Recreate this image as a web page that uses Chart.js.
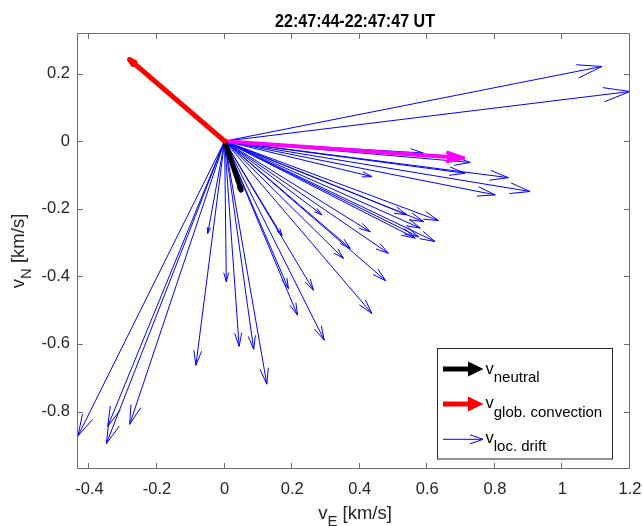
<!DOCTYPE html>
<html><head><meta charset="utf-8">
<script src="https://cdn.jsdelivr.net/npm/chart.js@4/dist/chart.umd.min.js"></script>
<style>html,body{margin:0;padding:0;background:#fff}#wrap{width:642px;height:526px}</style>
</head><body><div id="wrap"><canvas id="c" width="642" height="526"></canvas></div>
<script>
const titleText = '22:47:44-22:47:47 UT';
const xAxisMain = 'v', xAxisSub = 'E', xAxisUnit = ' [km/s]';
const yAxisMain = 'v', yAxisSub = 'N', yAxisUnit = ' [km/s]';
const xTicks = [-0.4, -0.2, 0, 0.2, 0.4, 0.6, 0.8, 1, 1.2];
const xTickLabels = ['-0.4', '-0.2', '0', '0.2', '0.4', '0.6', '0.8', '1', '1.2'];
const yTicks = [-0.8, -0.6, -0.4, -0.2, 0, 0.2];
const yTickLabels = ['-0.8', '-0.6', '-0.4', '-0.2', '0', '0.2'];
const xRange = [-0.434, 1.2];
const yRange = [-0.97, 0.32];

// local drift vectors (blue), east / north components
const driftU = [1.117, 1.20, 0.588, 0.727, 0.712, 0.840, 0.904, 0.801, 0.436, 0.633,
  0.623, 0.589, 0.579, 0.574, 0.564, 0.540, 0.431, 0.485, 0.477, 0.288,
  0.352, 0.372, 0.170, 0.189, 0.263, 0.216, 0.436, 0.295, -0.050, 0.005,
  0.043, 0.086, 0.125, -0.085, -0.434, -0.350, -0.346, -0.281];
const driftV = [0.221, 0.147, -0.035, -0.063, -0.095, -0.108, -0.149, -0.159, -0.105, -0.235,
  -0.297, -0.238, -0.257, -0.283, -0.287, -0.218, -0.268, -0.332, -0.413, -0.218,
  -0.347, -0.317, -0.280, -0.436, -0.441, -0.515, -0.510, -0.589, -0.273, -0.416,
  -0.607, -0.616, -0.719, -0.663, -0.872, -0.895, -0.844, -0.838];
// neutral wind (black)
const neutralU = [0.0485], neutralV = [-0.144];
// global convection (red)
const convU = [-0.281], convV = [0.241];
// mean drift (magenta)
const meanU = [0.706], meanV = [-0.050];

const legendLabels = ['neutral', 'glob. convection', 'loc. drift'];
const legendColors = ['#000000', '#ff0000', '#0000ff'];

const datasets = [];
function addArrow(u, v, color, width, kind, headScale) {
  datasets.push({
    data: [{x: 0, y: 0}, {x: u, y: v}],
    borderColor: color, backgroundColor: color, borderWidth: width,
    pointRadius: 0, pointHoverRadius: 0, showLine: true, fill: false, tension: 0,
    borderCapStyle: kind === 'thick' ? 'round' : 'butt', arrowKind: kind, headScale: headScale
  });
}
convU.forEach((u, i) => addArrow(u, convV[i], '#ff0000', 5, 'thick', 0.045));
neutralU.forEach((u, i) => addArrow(u, neutralV[i], '#000000', 5, 'thick', 0.045));
meanU.forEach((u, i) => addArrow(u, meanV[i], '#ff00ff', 4, 'thick', 0.067));
driftU.forEach((u, i) => addArrow(u, driftV[i], '#0000ff', 1, 'thin', 0.067));

const FONT = '"Liberation Sans", Arial, Helvetica, sans-serif';
const AXC = '#262626';

const arrowHeads = {
  id: 'arrowHeads',
  afterDatasetDraw(chart, args) {
    const meta = args.meta;
    const ds = chart.data.datasets[args.index];
    const p0 = meta.data[0], p1 = meta.data[1];
    if (!p0 || !p1) return;
    const a = chart.chartArea, ctx = chart.ctx;
    const dx = p1.x - p0.x, dy = p1.y - p0.y;
    const L = Math.hypot(dx, dy);
    const h = ds.headScale * L;
    const ang = Math.atan2(dy, dx);
    const sp = 15 * Math.PI / 180;
    ctx.save();
    ctx.beginPath();
    ctx.rect(a.left, a.top, a.right - a.left, a.bottom - a.top);
    ctx.clip();
    ctx.strokeStyle = ds.borderColor;
    ctx.lineWidth = ds.borderWidth;
    ctx.lineCap = ds.arrowKind === 'thick' ? 'round' : 'butt';
    ctx.lineJoin = ds.arrowKind === 'thick' ? 'round' : 'miter';
    ctx.beginPath();
    ctx.moveTo(p1.x - h * Math.cos(ang - sp), p1.y - h * Math.sin(ang - sp));
    ctx.lineTo(p1.x, p1.y);
    ctx.lineTo(p1.x - h * Math.cos(ang + sp), p1.y - h * Math.sin(ang + sp));
    ctx.stroke();
    ctx.restore();
  }
};

function subText(ctx, x, y, main, sub, rest, mainSize, subSize, drop) {
  ctx.font = mainSize + 'px ' + FONT;
  ctx.fillText(main, x, y);
  let w = ctx.measureText(main).width;
  ctx.font = subSize + 'px ' + FONT;
  ctx.fillText(sub, x + w, y + drop);
  w += ctx.measureText(sub).width;
  if (rest) {
    ctx.font = mainSize + 'px ' + FONT;
    ctx.fillText(rest, x + w, y);
  }
}
function subWidth(ctx, main, sub, rest, mainSize, subSize) {
  ctx.font = mainSize + 'px ' + FONT;
  let w = ctx.measureText(main).width + (rest ? ctx.measureText(rest).width : 0);
  ctx.font = subSize + 'px ' + FONT;
  return w + ctx.measureText(sub).width;
}

const decor = {
  id: 'decor',
  afterDraw(chart) {
    const ctx = chart.ctx, a = chart.chartArea;
    const xs = chart.scales.x, ys = chart.scales.y;
    ctx.save();
    // box
    ctx.strokeStyle = '#6f6f6f';
    ctx.lineWidth = 1;
    const L = Math.round(a.left) - 0.5, R = Math.round(a.right) - 0.5;
    const T = Math.round(a.top) + 0.5, B = Math.round(a.bottom) - 0.5;
    ctx.beginPath();
    ctx.rect(L, T, R - L, B - T);
    ctx.stroke();
    // inward ticks
    ctx.beginPath();
    xTicks.forEach(v => {
      const px = Math.round(xs.getPixelForValue(v)) - 0.5;
      ctx.moveTo(px, B); ctx.lineTo(px, B - 5.5);
      ctx.moveTo(px, T); ctx.lineTo(px, T + 5.5);
    });
    yTicks.forEach(v => {
      const py = Math.round(ys.getPixelForValue(v)) + 0.5;
      ctx.moveTo(L, py); ctx.lineTo(L + 5.5, py);
      ctx.moveTo(R, py); ctx.lineTo(R - 5.5, py);
    });
    ctx.stroke();

    // title (slightly condensed bold, as in the reference)
    ctx.fillStyle = '#000';
    ctx.textAlign = 'center';
    ctx.textBaseline = 'alphabetic';
    ctx.font = 'bold 18px ' + FONT;
    const tw = ctx.measureText(titleText).width;
    const sx = Math.min(1, 160 / tw);
    ctx.save();
    ctx.translate((a.left + a.right) / 2 + 1, 26.5);
    ctx.scale(sx, 1);
    ctx.fillText(titleText, 0, 0);
    ctx.restore();

    // x axis label
    ctx.fillStyle = AXC;
    ctx.textAlign = 'left';
    const cx = (a.left + a.right) / 2 + 1;
    let w = subWidth(ctx, xAxisMain, xAxisSub, xAxisUnit, 18.5, 15);
    subText(ctx, cx - w / 2, 518.5, xAxisMain, xAxisSub, xAxisUnit, 18.5, 15, 7);

    // y axis label
    ctx.save();
    ctx.translate(23.5, (a.top + a.bottom) / 2);
    ctx.rotate(-Math.PI / 2);
    w = subWidth(ctx, yAxisMain, yAxisSub, yAxisUnit, 18.5, 15);
    subText(ctx, -w / 2, 0, yAxisMain, yAxisSub, yAxisUnit, 18.5, 15, 7.5);
    ctx.restore();

    // legend
    const bx = 437.5, by = 348.5, bw = 175, bh = 110.5;
    ctx.fillStyle = '#fff';
    ctx.fillRect(bx, by, bw, bh);
    ctx.strokeStyle = '#262626';
    ctx.lineWidth = 1;
    ctx.strokeRect(bx, by, bw, bh);
    const cy = [369, 404, 439.3];
    const base = [373.5, 408.3, 442.5];
    legendLabels.forEach((lab, i) => {
      const col = legendColors[i];
      const y = cy[i];
      ctx.strokeStyle = col; ctx.fillStyle = col;
      if (i < 2) {
        ctx.lineWidth = 5; ctx.lineCap = 'butt';
        ctx.beginPath(); ctx.moveTo(443, y); ctx.lineTo(470, y); ctx.stroke();
        ctx.beginPath();
        ctx.moveTo(468, y - 7.5); ctx.lineTo(483.5, y); ctx.lineTo(468, y + 7.5);
        ctx.closePath(); ctx.fill();
      } else {
        ctx.lineWidth = 1;
        ctx.beginPath(); ctx.moveTo(443, y); ctx.lineTo(483, y);
        ctx.moveTo(470, y - 4.5); ctx.lineTo(483, y); ctx.lineTo(470, y + 4.5);
        ctx.stroke();
      }
      ctx.fillStyle = '#000';
      ctx.textAlign = 'left';
      subText(ctx, 485.5, base[i], 'v', lab, '', 16.5, 15, 8.5);
    });
    ctx.restore();
  }
};

new Chart(document.getElementById('c'), {
  type: 'scatter',
  data: { datasets },
  options: {
    responsive: false,
    animation: false,
    devicePixelRatio: 1,
    events: [],
    layout: { padding: { left: 0, right: 12, top: 33, bottom: 0 } },
    plugins: { legend: { display: false }, tooltip: { enabled: false }, title: { display: false } },
    scales: {
      x: {
        type: 'linear', min: xRange[0], max: xRange[1],
        grid: { display: false, drawTicks: false },
        border: { display: false },
        afterBuildTicks: s => { s.ticks = xTicks.map(v => ({ value: v })); },
        afterFit: s => { s.height = 57; s.paddingLeft = 0; s.paddingRight = 0; },
        ticks: {
          autoSkip: false, maxRotation: 0, padding: 11, color: AXC,
          font: { family: FONT, size: 16.5 },
          callback: (v) => { const i = xTicks.findIndex(t => Math.abs(t - v) < 1e-9); return i >= 0 ? xTickLabels[i] : ''; }
        }
      },
      y: {
        type: 'linear', min: yRange[0], max: yRange[1],
        grid: { display: false, drawTicks: false },
        border: { display: false },
        afterBuildTicks: s => { s.ticks = yTicks.map(v => ({ value: v })); },
        afterFit: s => { s.width = 78; s.paddingTop = 0; s.paddingBottom = 0; },
        ticks: {
          autoSkip: false, padding: 8, color: AXC,
          font: { family: FONT, size: 16.5 },
          callback: (v) => { const i = yTicks.findIndex(t => Math.abs(t - v) < 1e-9); return i >= 0 ? yTickLabels[i] : ''; }
        }
      }
    }
  },
  plugins: [arrowHeads, decor]
});
</script>
</body></html>
